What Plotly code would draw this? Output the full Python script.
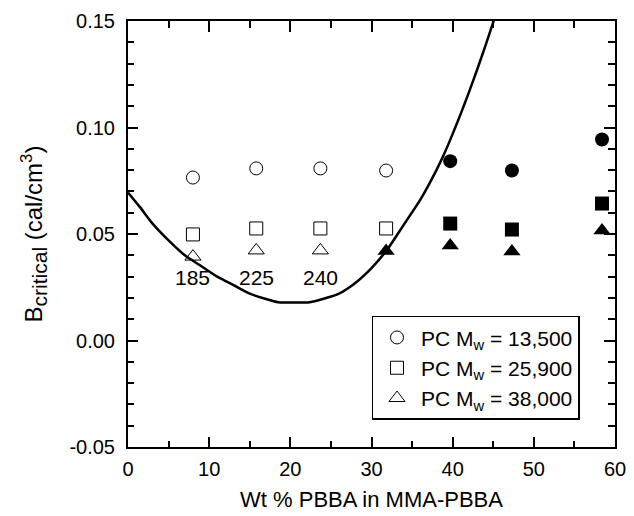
import plotly.graph_objects as go

# ---- data ----
wt_pct = [8.0, 15.8, 23.7, 31.8, 39.7, 47.3, 58.4]
b_pc13500 = [0.0765, 0.0808, 0.0808, 0.0798, 0.0842, 0.0798, 0.0944]
b_pc25900 = [0.0498, 0.0526, 0.0526, 0.0526, 0.0549, 0.0521, 0.0643]
b_pc38000 = [0.0394, 0.0423, 0.0423, 0.0420, 0.0446, 0.0418, 0.0516]
open_idx_circle = [0, 1, 2, 3]
open_idx_square = [0, 1, 2, 3]
open_idx_triangle = [0, 1, 2]

curve_x = [0, 1.5, 3, 5, 7, 9, 11, 13, 15, 17, 18.5, 20.5, 22.4, 24, 26, 28, 30, 32, 34, 36, 38,
           39, 40, 41, 42, 43, 44, 45, 46]
curve_y = [0.0695, 0.0625, 0.055, 0.047, 0.040, 0.035, 0.030, 0.026, 0.022, 0.0195, 0.018, 0.0178, 0.018,
           0.0195, 0.022, 0.027, 0.034, 0.043, 0.0545, 0.066, 0.080, 0.088, 0.097, 0.1065, 0.1165, 0.127,
           0.138, 0.1495, 0.161]

ann_labels = ["185", "225", "240"]
ann_x = [8.0, 15.8, 23.7]
ann_y = 0.0296

y_tickvals = [-0.05, 0.0, 0.05, 0.10, 0.15]
y_ticktext = ["-0.05", "0.00", "0.05", "0.10", "0.15"]
x_tickvals = [0, 10, 20, 30, 40, 50, 60]
x_ticktext = ["0", "10", "20", "30", "40", "50", "60"]

legend_names = ["PC M<sub>w</sub> = 13,500", "PC M<sub>w</sub> = 25,900", "PC M<sub>w</sub> = 38,000"]

FONT = "Liberation Sans, Arial, sans-serif"
X_RANGE = [0, 60]
Y_RANGE = [-0.05, 0.15]

fig = go.Figure()

series = [
    (b_pc13500, open_idx_circle, "circle", 13, 14),
    (b_pc25900, open_idx_square, "square", 13, 14),
    (b_pc38000, open_idx_triangle, "triangle-up", 14, 15),
]
for (vals, oidx, sym, s_open, s_fill), name in zip(series, legend_names):
    xo = [wt_pct[i] for i in oidx]
    yo = [vals[i] for i in oidx]
    fidx = [i for i in range(len(wt_pct)) if i not in oidx]
    xf = [wt_pct[i] for i in fidx]
    yf = [vals[i] for i in fidx]
    fig.add_trace(go.Scatter(x=xo, y=yo, mode="markers", name=name,
                             marker=dict(symbol=sym + "-open", size=s_open, color="black",
                                         line=dict(width=1, color="black"))))
    # filled symbols on overlaid axes x3/y3 (same ranges), which draw the short top/right ticks
    fig.add_trace(go.Scatter(x=xf, y=yf, mode="markers", showlegend=False, xaxis="x3", yaxis="y3",
                             marker=dict(symbol=sym, size=s_fill, color="black",
                                         line=dict(width=0))))

# curve on overlaid axes x2/y2 (same ranges), which draw the long top/right ticks
fig.add_trace(go.Scatter(x=curve_x, y=curve_y, mode="lines", xaxis="x2", yaxis="y2",
                         line=dict(color="black", width=2.5, shape="spline", smoothing=0.6),
                         showlegend=False, hoverinfo="skip"))

for t, xv in zip(ann_labels, ann_x):
    fig.add_annotation(x=xv, y=ann_y, text=t, showarrow=False,
                       font=dict(family=FONT, size=21, color="black"))

mirror_common = dict(showticklabels=False, showgrid=False, zeroline=False, showline=False,
                     ticks="inside", tickcolor="black", tickwidth=2, automargin=False, tickmode="linear")

fig.update_layout(
    width=634, height=516,
    margin=dict(l=128, r=19, t=21, b=69),
    paper_bgcolor="white", plot_bgcolor="white",
    font=dict(family=FONT, color="black"),
    xaxis=dict(range=X_RANGE, tickmode="array", tickvals=x_tickvals, ticktext=x_ticktext,
               showgrid=False, zeroline=False, showline=True, linecolor="black", linewidth=2,
               mirror="allticks", ticks="inside", tickcolor="black", tickwidth=2, ticklen=10,
               automargin=False,
               tickfont=dict(family=FONT, size=20, color="black"), ticklabelstandoff=3,
               minor=dict(tickmode="linear", tick0=0, dtick=5, ticks="inside", ticklen=6,
                          tickwidth=2, tickcolor="black"),
               title=dict(text="Wt % PBBA in MMA-PBBA", font=dict(family=FONT, size=22, color="black"),
                          standoff=13)),
    yaxis=dict(range=Y_RANGE, tickmode="array", tickvals=y_tickvals, ticktext=y_ticktext,
               showgrid=False, zeroline=False, showline=True, linecolor="black", linewidth=2,
               mirror="allticks", ticks="inside", tickcolor="black", tickwidth=2, ticklen=10,
               automargin=False,
               tickfont=dict(family=FONT, size=20, color="black"), ticklabelstandoff=7,
               minor=dict(tickmode="linear", tick0=0, dtick=0.01, ticks="inside", ticklen=6,
                          tickwidth=2, tickcolor="black"),
               title=dict(text="B<sub><span style='font-size:21px'>critical</span></sub> (cal/cm<sup>3</sup>)\u00a0\u00a0",
                          font=dict(family=FONT, size=24, color="black"), standoff=20)),
    xaxis2=dict(range=X_RANGE, overlaying="x", side="top", anchor="y2", tick0=0, dtick=10, ticklen=11,
                **mirror_common),
    yaxis2=dict(range=Y_RANGE, overlaying="y", side="right", anchor="x2", tick0=0, dtick=0.05, ticklen=11,
                **mirror_common),
    xaxis3=dict(range=X_RANGE, overlaying="x", side="top", anchor="y3", tick0=0, dtick=5, ticklen=7,
                **mirror_common),
    yaxis3=dict(range=Y_RANGE, overlaying="y", side="right", anchor="x3", tick0=0, dtick=0.01, ticklen=7,
                **mirror_common),
    legend=dict(x=0.5, y=0.308, xanchor="left", yanchor="top",
                bordercolor="black", borderwidth=1.5, bgcolor="white",
                font=dict(family=FONT, size=21, color="black"),
                itemwidth=38, tracegroupgap=0),
)

fig.write_html("out.html")
